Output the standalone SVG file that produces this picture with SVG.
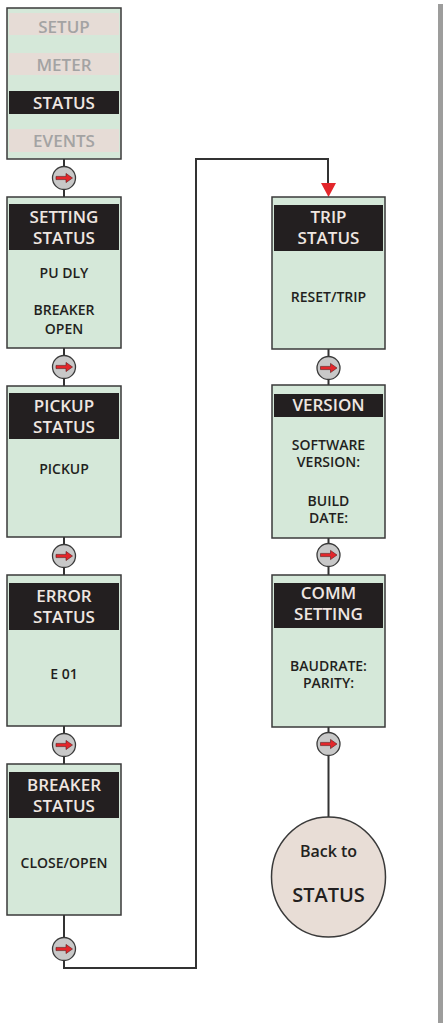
<svg xmlns="http://www.w3.org/2000/svg" width="443" height="1023" viewBox="0 0 443 1023">
<style>
.box{fill:#d5e8d9;stroke:#3a3a3a;stroke-width:1.5}
.hdr{fill:#231f20}
.band{fill:#e6dcd6}
.t{font-family:"Open Sans","Noto Sans",sans-serif;font-weight:600;text-anchor:middle}
.ht{font-size:17px;fill:#efe6e1}
.mt{font-size:17px;fill:#a3a3a3}
.bt{font-size:14px;fill:#231f20}
.wire{fill:none;stroke:#333;stroke-width:2}
</style>
<defs>
<g id="nav">
<circle r="11.5" fill="#c8c8c8" stroke="#3a3a3a" stroke-width="1.3"/>
<polygon points="-8,-1.6 2,-1.6 2,-4.6 8.5,0 2,4.6 2,1.6 -8,1.6" fill="#e3262b" stroke="#5a1a1a" stroke-width="0.6"/>
</g>
</defs>
<rect x="438" y="4" width="5" height="1019" fill="#9d9d9c"/>
<g id="connectors">
<line class="wire" x1="64" y1="159" x2="64" y2="197"/>
<line class="wire" x1="64" y1="348" x2="64" y2="386"/>
<line class="wire" x1="64" y1="537" x2="64" y2="575"/>
<line class="wire" x1="64" y1="726" x2="64" y2="764"/>
<polyline class="wire" points="64,915 64,968 196,968 196,159 328,159 328,183"/>
<polygon points="321,183 336,183 328.5,197" fill="#e3262b"/>
<line class="wire" x1="328.5" y1="349" x2="328.5" y2="385"/>
<line class="wire" x1="328.5" y1="538" x2="328.5" y2="575"/>
<line class="wire" x1="328.5" y1="727" x2="328.5" y2="817"/>
<use href="#nav" x="64" y="178"/>
<use href="#nav" x="64" y="367"/>
<use href="#nav" x="64" y="556"/>
<use href="#nav" x="64" y="745"/>
<use href="#nav" x="64" y="949"/>
<use href="#nav" x="328.5" y="368"/>
<use href="#nav" x="328.5" y="555"/>
<use href="#nav" x="328.5" y="744"/>
</g>
<g id="menu">
<rect class="box" x="7" y="8" width="114" height="151"/>
<rect class="band" x="9" y="13" width="110" height="22"/>
<rect class="band" x="9" y="53" width="110" height="22"/>
<rect class="hdr" x="9" y="91" width="110" height="23"/>
<rect class="band" x="9" y="129" width="110" height="23"/>
<text class="t mt" x="64" y="33">SETUP</text>
<text class="t mt" x="64" y="71">METER</text>
<text class="t ht" x="64" y="109">STATUS</text>
<text class="t mt" x="64" y="147">EVENTS</text>
</g>
<g id="setting-status">
<rect class="box" x="7" y="197" width="114" height="151"/>
<rect class="hdr" x="9" y="204" width="110" height="46"/>
<text class="t ht" x="64" y="223">SETTING</text>
<text class="t ht" x="64" y="244">STATUS</text>
<text class="t bt" x="64" y="278">PU DLY</text>
<text class="t bt" x="64" y="315">BREAKER</text>
<text class="t bt" x="64" y="334">OPEN</text>
</g>
<g id="pickup-status">
<rect class="box" x="7" y="386" width="114" height="151"/>
<rect class="hdr" x="9" y="393" width="110" height="46"/>
<text class="t ht" x="64" y="412">PICKUP</text>
<text class="t ht" x="64" y="433">STATUS</text>
<text class="t bt" x="64" y="474">PICKUP</text>
</g>
<g id="error-status">
<rect class="box" x="7" y="575" width="114" height="151"/>
<rect class="hdr" x="9" y="583" width="110" height="47"/>
<text class="t ht" x="64" y="602">ERROR</text>
<text class="t ht" x="64" y="623">STATUS</text>
<text class="t bt" x="64" y="679">E 01</text>
</g>
<g id="breaker-status">
<rect class="box" x="7" y="764" width="114" height="151"/>
<rect class="hdr" x="9" y="772" width="110" height="46"/>
<text class="t ht" x="64" y="791">BREAKER</text>
<text class="t ht" x="64" y="812">STATUS</text>
<text class="t bt" x="64" y="868">CLOSE/OPEN</text>
</g>
<g id="trip-status">
<rect class="box" x="272" y="197" width="113" height="152"/>
<rect class="hdr" x="274" y="205" width="109" height="46"/>
<text class="t ht" x="328.5" y="223">TRIP</text>
<text class="t ht" x="328.5" y="244">STATUS</text>
<text class="t bt" x="328.5" y="302">RESET/TRIP</text>
</g>
<g id="version">
<rect class="box" x="272" y="385" width="113" height="153"/>
<rect class="hdr" x="274" y="394" width="109" height="23"/>
<text class="t ht" x="328.5" y="411">VERSION</text>
<text class="t bt" x="328.5" y="449.5">SOFTWARE</text>
<text class="t bt" x="328.5" y="466.5">VERSION:</text>
<text class="t bt" x="328.5" y="506">BUILD</text>
<text class="t bt" x="328.5" y="523">DATE:</text>
</g>
<g id="comm-setting">
<rect class="box" x="272" y="575" width="113" height="152"/>
<rect class="hdr" x="274" y="583" width="109" height="45"/>
<text class="t ht" x="328.5" y="599">COMM</text>
<text class="t ht" x="328.5" y="620">SETTING</text>
<text class="t bt" x="328.5" y="670.5">BAUDRATE:</text>
<text class="t bt" x="328.5" y="688">PARITY:</text>
</g>
<g id="back-to-status">
<ellipse cx="328.5" cy="877" rx="57" ry="60" fill="#e8ddd6" stroke="#3a3a3a" stroke-width="1.5"/>
<text class="t" x="328.5" y="857" font-size="16" fill="#231f20">Back to</text>
<text class="t" x="328.5" y="902" font-size="20" fill="#231f20">STATUS</text>
</g>
</svg>
